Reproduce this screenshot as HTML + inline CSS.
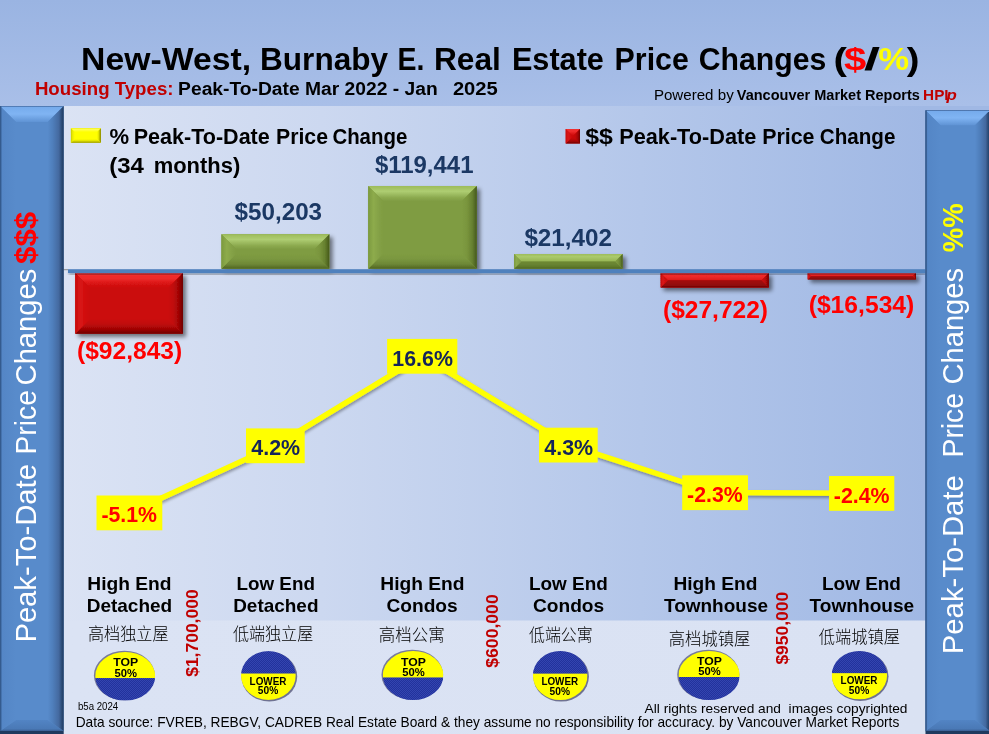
<!DOCTYPE html>
<html lang="en"><head><meta charset="utf-8"><title>New-West, Burnaby E. Real Estate Price Changes</title>
<style>html,body{margin:0;padding:0;background:#a3bae5;overflow:hidden;width:989px;height:734px}svg{display:block}text{white-space:pre}</style></head><body>
<svg width="989" height="734" viewBox="0 0 989 734">
<defs>
<linearGradient id="bgTop" gradientUnits="userSpaceOnUse" x1="0" y1="0" x2="0" y2="106"><stop offset="0" stop-color="#9ab4e2"/><stop offset="1" stop-color="#a9bfe8"/></linearGradient>
<linearGradient id="plot" gradientUnits="userSpaceOnUse" x1="63" y1="0" x2="925" y2="0"><stop offset="0" stop-color="#dbe3f4"/><stop offset="0.3" stop-color="#ccd8f0"/><stop offset="0.67" stop-color="#b4c7ea"/><stop offset="1" stop-color="#a0b8e4"/></linearGradient>
<linearGradient id="band" gradientUnits="userSpaceOnUse" x1="63" y1="0" x2="925" y2="0"><stop offset="0" stop-color="#dbe3f4"/><stop offset="1" stop-color="#dae2f3"/></linearGradient>
<linearGradient id="gT" x1="0" y1="0" x2="0" y2="1"><stop offset="0" stop-color="#9dbc5a"/><stop offset="0.35" stop-color="#aecd72"/><stop offset="0.75" stop-color="#8dab50"/><stop offset="1" stop-color="#7f9c42"/></linearGradient>
<linearGradient id="gB" x1="0" y1="1" x2="0" y2="0"><stop offset="0" stop-color="#4f6420"/><stop offset="0.3" stop-color="#6d8736"/><stop offset="0.65" stop-color="#7a973f"/><stop offset="1" stop-color="#7f9c42"/></linearGradient>
<linearGradient id="gL" x1="0" y1="0" x2="1" y2="0"><stop offset="0" stop-color="#7c9a3e"/><stop offset="0.35" stop-color="#8dab4c"/><stop offset="0.75" stop-color="#83a045"/><stop offset="1" stop-color="#7f9c42"/></linearGradient>
<linearGradient id="gR" x1="1" y1="0" x2="0" y2="0"><stop offset="0" stop-color="#44581a"/><stop offset="0.3" stop-color="#66802f"/><stop offset="0.65" stop-color="#79953d"/><stop offset="1" stop-color="#7f9c42"/></linearGradient>
<linearGradient id="gsT" x1="0" y1="0" x2="0" y2="1"><stop offset="0" stop-color="#9dbc5a"/><stop offset="0.35" stop-color="#abca6c"/><stop offset="0.75" stop-color="#9ebd5c"/><stop offset="1" stop-color="#98b855"/></linearGradient>
<linearGradient id="gsB" x1="0" y1="1" x2="0" y2="0"><stop offset="0" stop-color="#4f6420"/><stop offset="0.3" stop-color="#5f7a2c"/><stop offset="0.65" stop-color="#6a8532"/><stop offset="1" stop-color="#6e8934"/></linearGradient>
<linearGradient id="gsL" x1="0" y1="0" x2="1" y2="0"><stop offset="0" stop-color="#7c9a3e"/><stop offset="0.35" stop-color="#8dab4c"/><stop offset="0.75" stop-color="#83a045"/><stop offset="1" stop-color="#7f9c42"/></linearGradient>
<linearGradient id="gsR" x1="1" y1="0" x2="0" y2="0"><stop offset="0" stop-color="#44581a"/><stop offset="0.3" stop-color="#66802f"/><stop offset="0.65" stop-color="#79953d"/><stop offset="1" stop-color="#7f9c42"/></linearGradient>
<linearGradient id="rsT" x1="0" y1="0" x2="0" y2="1"><stop offset="0" stop-color="#e82424"/><stop offset="0.35" stop-color="#f02c2c"/><stop offset="0.75" stop-color="#e52121"/><stop offset="1" stop-color="#e01c1c"/></linearGradient>
<linearGradient id="rsB" x1="0" y1="1" x2="0" y2="0"><stop offset="0" stop-color="#6e0000"/><stop offset="0.3" stop-color="#8e0808"/><stop offset="0.65" stop-color="#9c0808"/><stop offset="1" stop-color="#a00808"/></linearGradient>
<linearGradient id="rsL" x1="0" y1="0" x2="1" y2="0"><stop offset="0" stop-color="#c80c0c"/><stop offset="0.35" stop-color="#d81616"/><stop offset="0.75" stop-color="#cf0c0c"/><stop offset="1" stop-color="#cb0808"/></linearGradient>
<linearGradient id="rsR" x1="1" y1="0" x2="0" y2="0"><stop offset="0" stop-color="#6e0000"/><stop offset="0.3" stop-color="#a20606"/><stop offset="0.65" stop-color="#c10808"/><stop offset="1" stop-color="#cb0808"/></linearGradient>
<linearGradient id="rT" x1="0" y1="0" x2="0" y2="1"><stop offset="0" stop-color="#f03030"/><stop offset="0.35" stop-color="#ee2a2a"/><stop offset="0.75" stop-color="#d61212"/><stop offset="1" stop-color="#cb0808"/></linearGradient>
<linearGradient id="rB" x1="0" y1="1" x2="0" y2="0"><stop offset="0" stop-color="#6e0000"/><stop offset="0.3" stop-color="#a00606"/><stop offset="0.65" stop-color="#c00808"/><stop offset="1" stop-color="#cb0808"/></linearGradient>
<linearGradient id="rL" x1="0" y1="0" x2="1" y2="0"><stop offset="0" stop-color="#c80c0c"/><stop offset="0.35" stop-color="#d81616"/><stop offset="0.75" stop-color="#cf0c0c"/><stop offset="1" stop-color="#cb0808"/></linearGradient>
<linearGradient id="rR" x1="1" y1="0" x2="0" y2="0"><stop offset="0" stop-color="#6e0000"/><stop offset="0.3" stop-color="#a20606"/><stop offset="0.65" stop-color="#c10808"/><stop offset="1" stop-color="#cb0808"/></linearGradient>
<linearGradient id="pT" x1="0" y1="0" x2="0" y2="1"><stop offset="0" stop-color="#3a5f94"/><stop offset="0.08" stop-color="#76abec"/><stop offset="0.5" stop-color="#80b4f3"/><stop offset="1" stop-color="#5f93d4"/></linearGradient>
<linearGradient id="pB" x1="0" y1="1" x2="0" y2="0"><stop offset="0" stop-color="#3a5f94"/><stop offset="0.2" stop-color="#4a79b6"/><stop offset="1" stop-color="#5284c4"/></linearGradient>
<linearGradient id="pL" x1="0" y1="0" x2="1" y2="0"><stop offset="0" stop-color="#3f6ba8"/><stop offset="0.15" stop-color="#5486c6"/><stop offset="1" stop-color="#588bcb"/></linearGradient>
<linearGradient id="pR" x1="1" y1="0" x2="0" y2="0"><stop offset="0" stop-color="#1f3a5f"/><stop offset="0.13" stop-color="#2c4c78"/><stop offset="0.3" stop-color="#44699f"/><stop offset="0.7" stop-color="#4f7fbc"/><stop offset="1" stop-color="#588bcb"/></linearGradient>
<linearGradient id="yT" x1="0" y1="0" x2="0" y2="1"><stop offset="0" stop-color="#f0f020"/><stop offset="0.35" stop-color="#ffff50"/><stop offset="0.75" stop-color="#ffff18"/><stop offset="1" stop-color="#ffff00"/></linearGradient>
<linearGradient id="yB" x1="0" y1="1" x2="0" y2="0"><stop offset="0" stop-color="#8c8c00"/><stop offset="0.3" stop-color="#c4c400"/><stop offset="0.65" stop-color="#f0f000"/><stop offset="1" stop-color="#ffff00"/></linearGradient>
<linearGradient id="yL" x1="0" y1="0" x2="1" y2="0"><stop offset="0" stop-color="#c8c800"/><stop offset="0.35" stop-color="#e8e800"/><stop offset="0.75" stop-color="#f8f800"/><stop offset="1" stop-color="#ffff00"/></linearGradient>
<linearGradient id="yR" x1="1" y1="0" x2="0" y2="0"><stop offset="0" stop-color="#7c7c00"/><stop offset="0.3" stop-color="#b4b400"/><stop offset="0.65" stop-color="#ecec00"/><stop offset="1" stop-color="#ffff00"/></linearGradient>
<filter id="sh" x="-10%" y="-20%" width="125%" height="150%"><feGaussianBlur in="SourceAlpha" stdDeviation="2.2"/><feOffset dx="2.5" dy="2.5"/><feComponentTransfer><feFuncA type="linear" slope="0.5"/></feComponentTransfer><feMerge><feMergeNode/><feMergeNode in="SourceGraphic"/></feMerge></filter>
<filter id="shl" x="-5%" y="-20%" width="110%" height="150%"><feGaussianBlur in="SourceAlpha" stdDeviation="1.5"/><feOffset dx="1" dy="2"/><feComponentTransfer><feFuncA type="linear" slope="0.35"/></feComponentTransfer><feMerge><feMergeNode/><feMergeNode in="SourceGraphic"/></feMerge></filter>
<pattern id="hatch" width="2" height="2" patternUnits="userSpaceOnUse"><rect width="2" height="2" fill="#22329c"/><rect width="1" height="1" fill="#3445b0"/><rect x="1" y="1" width="1" height="1" fill="#3445b0"/></pattern>
</defs>
<rect x="0" y="0" width="989" height="734" fill="url(#bgTop)"/>
<rect x="0" y="106" width="989" height="628" fill="url(#plot)"/>
<rect x="0" y="620.5" width="989" height="113.5" fill="url(#band)"/>
<text y="70.4" font-family="Liberation Sans, sans-serif" font-size="31" fill="#000" font-weight="bold"><tspan x="81.1" textLength="170.1" lengthAdjust="spacingAndGlyphs" >New-West,</tspan><tspan x="260.1" textLength="127.9" lengthAdjust="spacingAndGlyphs" >Burnaby</tspan><tspan x="397.5" textLength="26.9" lengthAdjust="spacingAndGlyphs" >E.</tspan><tspan x="433.9" textLength="66.9" lengthAdjust="spacingAndGlyphs" >Real</tspan><tspan x="511.9" textLength="92.0" lengthAdjust="spacingAndGlyphs" >Estate</tspan><tspan x="614.6" textLength="74.2" lengthAdjust="spacingAndGlyphs" >Price</tspan><tspan x="698.8" textLength="127.5" lengthAdjust="spacingAndGlyphs" >Changes</tspan><tspan x="833.6" textLength="13.4" lengthAdjust="spacingAndGlyphs" >(</tspan><tspan x="843.9" textLength="22.3" lengthAdjust="spacingAndGlyphs" fill="#ff0000">$</tspan><tspan x="864.1" textLength="16.1" lengthAdjust="spacingAndGlyphs" >/</tspan><tspan x="878.3" textLength="30.9" lengthAdjust="spacingAndGlyphs" fill="#ffff00">%</tspan><tspan x="906.8" textLength="12.7" lengthAdjust="spacingAndGlyphs" >)</tspan></text>
<text y="95.4" font-family="Liberation Sans, sans-serif" font-size="18" fill="#c00000" font-weight="bold"><tspan x="34.9" textLength="138.6" lengthAdjust="spacingAndGlyphs" >Housing Types:</tspan></text>
<text y="95.4" font-family="Liberation Sans, sans-serif" font-size="18" fill="#000" font-weight="bold"><tspan x="178.1" textLength="259.6" lengthAdjust="spacingAndGlyphs" >Peak-To-Date Mar 2022 - Jan</tspan><tspan x="452.9" textLength="44.9" lengthAdjust="spacingAndGlyphs" >2025</tspan></text>
<text y="99.8" font-family="Liberation Sans, sans-serif" font-size="15.5" fill="#000"><tspan x="653.9" textLength="79.8" lengthAdjust="spacingAndGlyphs" >Powered by</tspan></text>
<text y="99.8" font-family="Liberation Sans, sans-serif" font-size="15.5" fill="#000" font-weight="bold"><tspan x="736.8" textLength="183.1" lengthAdjust="spacingAndGlyphs" >Vancouver Market Reports</tspan></text>
<text y="99.8" font-family="Liberation Sans, sans-serif" font-size="15.5" fill="#c00000" font-weight="bold"><tspan x="923.1" textLength="25.5" lengthAdjust="spacingAndGlyphs" >HPI</tspan><tspan x="946.6" textLength="10.3" lengthAdjust="spacingAndGlyphs" font-style="italic">p</tspan></text>
<rect x="70.9" y="128.2" width="30" height="14.6" fill="#ffff00"/>
<polygon points="70.9,128.2 100.9,128.2 96.9,132.2 74.9,132.2" fill="url(#yT)"/>
<polygon points="70.9,142.79999999999998 100.9,142.79999999999998 96.9,138.79999999999998 74.9,138.79999999999998" fill="url(#yB)"/>
<polygon points="70.9,128.2 74.9,132.2 74.9,138.79999999999998 70.9,142.79999999999998" fill="url(#yL)"/>
<polygon points="100.9,128.2 96.9,132.2 96.9,138.79999999999998 100.9,142.79999999999998" fill="url(#yR)"/>
<text y="143.5" font-family="Liberation Sans, sans-serif" font-size="22" fill="#000" font-weight="bold"><tspan x="109.4" textLength="19.6" lengthAdjust="spacingAndGlyphs" >%</tspan><tspan x="133.7" textLength="136.1" lengthAdjust="spacingAndGlyphs" >Peak-To-Date</tspan><tspan x="276.0" textLength="52.0" lengthAdjust="spacingAndGlyphs" >Price</tspan><tspan x="332.4" textLength="74.9" lengthAdjust="spacingAndGlyphs" >Change</tspan></text>
<text y="173.3" font-family="Liberation Sans, sans-serif" font-size="22" fill="#000" font-weight="bold"><tspan x="109.2" textLength="34.7" lengthAdjust="spacingAndGlyphs" >(34</tspan><tspan x="153.7" textLength="86.6" lengthAdjust="spacingAndGlyphs" >months)</tspan></text>
<rect x="565.7" y="129" width="14.3" height="14.5" fill="#cb0808"/>
<polygon points="565.7,129 580.0,129 573.0,136 572.7,136" fill="url(#rT)"/>
<polygon points="565.7,143.5 580.0,143.5 573.0,136.5 572.7,136.5" fill="url(#rB)"/>
<polygon points="565.7,129 572.7,136 572.7,136.5 565.7,143.5" fill="url(#rL)"/>
<polygon points="580.0,129 573.0,136 573.0,136.5 580.0,143.5" fill="url(#rR)"/>
<text y="143.5" font-family="Liberation Sans, sans-serif" font-size="22" fill="#000" font-weight="bold"><tspan x="585.2" textLength="27.7" lengthAdjust="spacingAndGlyphs" >$$</tspan><tspan x="619.2" textLength="137.1" lengthAdjust="spacingAndGlyphs" >Peak-To-Date</tspan><tspan x="762.2" textLength="52.3" lengthAdjust="spacingAndGlyphs" >Price</tspan><tspan x="819.8" textLength="75.6" lengthAdjust="spacingAndGlyphs" >Change</tspan></text>
<g filter="url(#sh)">
<rect x="75.2" y="273.1" width="107.8" height="60.6" fill="#cb0808"/>
<polygon points="75.2,273.1 183.0,273.1 168.0,288.1 90.2,288.1" fill="url(#rT)"/>
<polygon points="75.2,333.70000000000005 183.0,333.70000000000005 168.0,318.70000000000005 90.2,318.70000000000005" fill="url(#rB)"/>
<polygon points="75.2,273.1 90.2,288.1 90.2,318.70000000000005 75.2,333.70000000000005" fill="url(#rL)"/>
<polygon points="183.0,273.1 168.0,288.1 168.0,318.70000000000005 183.0,333.70000000000005" fill="url(#rR)"/>
<rect x="221.4" y="234.2" width="108" height="34.6" fill="#7f9c42"/>
<polygon points="221.4,234.2 329.4,234.2 314.4,249.2 236.4,249.2" fill="url(#gT)"/>
<polygon points="221.4,268.8 329.4,268.8 314.4,253.8 236.4,253.8" fill="url(#gB)"/>
<polygon points="221.4,234.2 236.4,249.2 236.4,253.8 221.4,268.8" fill="url(#gL)"/>
<polygon points="329.4,234.2 314.4,249.2 314.4,253.8 329.4,268.8" fill="url(#gR)"/>
<rect x="368.2" y="186.1" width="108.6" height="82.6" fill="#7f9c42"/>
<polygon points="368.2,186.1 476.79999999999995,186.1 461.79999999999995,201.1 383.2,201.1" fill="url(#gT)"/>
<polygon points="368.2,268.7 476.79999999999995,268.7 461.79999999999995,253.7 383.2,253.7" fill="url(#gB)"/>
<polygon points="368.2,186.1 383.2,201.1 383.2,253.7 368.2,268.7" fill="url(#gL)"/>
<polygon points="476.79999999999995,186.1 461.79999999999995,201.1 461.79999999999995,253.7 476.79999999999995,268.7" fill="url(#gR)"/>
<rect x="514" y="254" width="108.6" height="14.8" fill="#7f9c42"/>
<polygon points="514,254 622.6,254 615.2,261.4 521.4,261.4" fill="url(#gsT)"/>
<polygon points="514,268.8 622.6,268.8 615.2,261.40000000000003 521.4,261.40000000000003" fill="url(#gsB)"/>
<polygon points="514,254 521.4,261.4 521.4,261.40000000000003 514,268.8" fill="url(#gsL)"/>
<polygon points="622.6,254 615.2,261.4 615.2,261.40000000000003 622.6,268.8" fill="url(#gsR)"/>
<rect x="660.6" y="273.1" width="108.3" height="14.5" fill="#cb0808"/>
<polygon points="660.6,273.1 768.9,273.1 761.65,280.35 667.85,280.35" fill="url(#rsT)"/>
<polygon points="660.6,287.6 768.9,287.6 761.65,280.35 667.85,280.35" fill="url(#rsB)"/>
<polygon points="660.6,273.1 667.85,280.35 667.85,280.35 660.6,287.6" fill="url(#rsL)"/>
<polygon points="768.9,273.1 761.65,280.35 761.65,280.35 768.9,287.6" fill="url(#rsR)"/>
<rect x="807.7" y="273.1" width="108.3" height="6.3" fill="#cb0808"/>
<polygon points="807.7,273.1 916.0,273.1 912.85,276.25 810.85,276.25" fill="url(#rsT)"/>
<polygon points="807.7,279.40000000000003 916.0,279.40000000000003 912.85,276.25000000000006 810.85,276.25000000000006" fill="url(#rsB)"/>
<polygon points="807.7,273.1 810.85,276.25 810.85,276.25000000000006 807.7,279.40000000000003" fill="url(#rsL)"/>
<polygon points="916.0,273.1 912.85,276.25 912.85,276.25000000000006 916.0,279.40000000000003" fill="url(#rsR)"/>
</g>
<rect x="68" y="269.2" width="857.5" height="3.9" fill="#4f81bd" filter="url(#shl)"/>
<rect x="63" y="269.2" width="5" height="1" fill="#8a8a8a"/>
<text x="234.6" y="219.9" font-family="Liberation Sans, sans-serif" font-size="24" fill="#1b3864" font-weight="bold" textLength="87.5" lengthAdjust="spacingAndGlyphs">$50,203</text>
<text x="374.9" y="172.5" font-family="Liberation Sans, sans-serif" font-size="24" fill="#1b3864" font-weight="bold" textLength="98.6" lengthAdjust="spacingAndGlyphs">$119,441</text>
<text x="524.4" y="245.5" font-family="Liberation Sans, sans-serif" font-size="24" fill="#1b3864" font-weight="bold" textLength="87.6" lengthAdjust="spacingAndGlyphs">$21,402</text>
<text x="77" y="358.7" font-family="Liberation Sans, sans-serif" font-size="24.5" fill="#ff0000" font-weight="bold" textLength="105.2" lengthAdjust="spacingAndGlyphs">($92,843)</text>
<text x="663" y="318" font-family="Liberation Sans, sans-serif" font-size="24.5" fill="#ff0000" font-weight="bold" textLength="105" lengthAdjust="spacingAndGlyphs">($27,722)</text>
<text x="808.7" y="313" font-family="Liberation Sans, sans-serif" font-size="24.5" fill="#ff0000" font-weight="bold" textLength="105.6" lengthAdjust="spacingAndGlyphs">($16,534)</text>
<polyline points="129.4,512.7 275.4,445.6 422.2,356.1 568.4,444.9 715.1,492.5 861.6,493.2" fill="none" stroke="#ffff00" stroke-width="5.5" stroke-linejoin="round" stroke-linecap="round" filter="url(#shl)"/>
<rect x="96.5" y="495.5" width="65.8" height="34.8" fill="#ffff00"/>
<text x="101.4" y="522.4" font-family="Liberation Sans, sans-serif" font-size="22.6" fill="#ff0000" font-weight="bold" textLength="55.6" lengthAdjust="spacingAndGlyphs">-5.1%</text>
<rect x="246" y="428.4" width="58.7" height="34.8" fill="#ffff00"/>
<text x="251.3" y="455.3" font-family="Liberation Sans, sans-serif" font-size="22.6" fill="#14245a" font-weight="bold" textLength="48.9" lengthAdjust="spacingAndGlyphs">4.2%</text>
<rect x="387.1" y="338.9" width="70.2" height="34.8" fill="#ffff00"/>
<text x="392.3" y="365.8" font-family="Liberation Sans, sans-serif" font-size="22.6" fill="#14245a" font-weight="bold" textLength="60.6" lengthAdjust="spacingAndGlyphs">16.6%</text>
<rect x="539" y="427.7" width="58.7" height="34.8" fill="#ffff00"/>
<text x="544.3" y="454.6" font-family="Liberation Sans, sans-serif" font-size="22.6" fill="#14245a" font-weight="bold" textLength="48.9" lengthAdjust="spacingAndGlyphs">4.3%</text>
<rect x="682.2" y="475.3" width="65.8" height="34.8" fill="#ffff00"/>
<text x="687.1" y="502.2" font-family="Liberation Sans, sans-serif" font-size="22.6" fill="#ff0000" font-weight="bold" textLength="55.6" lengthAdjust="spacingAndGlyphs">-2.3%</text>
<rect x="829" y="476.0" width="65.3" height="34.8" fill="#ffff00"/>
<text x="833.8" y="502.9" font-family="Liberation Sans, sans-serif" font-size="22.6" fill="#ff0000" font-weight="bold" textLength="55.8" lengthAdjust="spacingAndGlyphs">-2.4%</text>
<text x="87.3" y="589.7" font-family="Liberation Sans, sans-serif" font-size="19" fill="#000" font-weight="bold" textLength="84.3" lengthAdjust="spacingAndGlyphs">High End</text>
<text x="86.7" y="611.6" font-family="Liberation Sans, sans-serif" font-size="19" fill="#000" font-weight="bold" textLength="85.5" lengthAdjust="spacingAndGlyphs">Detached</text>
<text x="236.5" y="589.7" font-family="Liberation Sans, sans-serif" font-size="19" fill="#000" font-weight="bold" textLength="78.4" lengthAdjust="spacingAndGlyphs">Low End</text>
<text x="233.2" y="611.6" font-family="Liberation Sans, sans-serif" font-size="19" fill="#000" font-weight="bold" textLength="85.3" lengthAdjust="spacingAndGlyphs">Detached</text>
<text x="380.3" y="589.7" font-family="Liberation Sans, sans-serif" font-size="19" fill="#000" font-weight="bold" textLength="84.3" lengthAdjust="spacingAndGlyphs">High End</text>
<text x="386.4" y="611.6" font-family="Liberation Sans, sans-serif" font-size="19" fill="#000" font-weight="bold" textLength="71.3" lengthAdjust="spacingAndGlyphs">Condos</text>
<text x="529" y="589.7" font-family="Liberation Sans, sans-serif" font-size="19" fill="#000" font-weight="bold" textLength="78.8" lengthAdjust="spacingAndGlyphs">Low End</text>
<text x="532.9" y="611.6" font-family="Liberation Sans, sans-serif" font-size="19" fill="#000" font-weight="bold" textLength="71.3" lengthAdjust="spacingAndGlyphs">Condos</text>
<text x="673.4" y="589.7" font-family="Liberation Sans, sans-serif" font-size="19" fill="#000" font-weight="bold" textLength="84.0" lengthAdjust="spacingAndGlyphs">High End</text>
<text x="664" y="611.6" font-family="Liberation Sans, sans-serif" font-size="19" fill="#000" font-weight="bold" textLength="104" lengthAdjust="spacingAndGlyphs">Townhouse</text>
<text x="822" y="589.7" font-family="Liberation Sans, sans-serif" font-size="19" fill="#000" font-weight="bold" textLength="78.9" lengthAdjust="spacingAndGlyphs">Low End</text>
<text x="809.6" y="611.6" font-family="Liberation Sans, sans-serif" font-size="19" fill="#000" font-weight="bold" textLength="104.6" lengthAdjust="spacingAndGlyphs">Townhouse</text>
<text x="88" y="639.8" font-family="Liberation Sans, Noto Sans CJK SC, sans-serif" font-size="16.8" fill="#000" textLength="80.6" lengthAdjust="spacingAndGlyphs" font-weight="300">高档独立屋</text>
<text x="232.9" y="639.8" font-family="Liberation Sans, Noto Sans CJK SC, sans-serif" font-size="16.8" fill="#000" textLength="80.4" lengthAdjust="spacingAndGlyphs" font-weight="300">低端独立屋</text>
<text x="378.8" y="641.3" font-family="Liberation Sans, Noto Sans CJK SC, sans-serif" font-size="16.8" fill="#000" textLength="65.8" lengthAdjust="spacingAndGlyphs" font-weight="300">高档公寓</text>
<text x="529" y="641.3" font-family="Liberation Sans, Noto Sans CJK SC, sans-serif" font-size="16.8" fill="#000" textLength="63.6" lengthAdjust="spacingAndGlyphs" font-weight="300">低端公寓</text>
<text x="668.8" y="645.3" font-family="Liberation Sans, Noto Sans CJK SC, sans-serif" font-size="16.8" fill="#000" textLength="81.6" lengthAdjust="spacingAndGlyphs" font-weight="300">高档城镇屋</text>
<text x="818.7" y="643.3" font-family="Liberation Sans, Noto Sans CJK SC, sans-serif" font-size="16.8" fill="#000" textLength="81.3" lengthAdjust="spacingAndGlyphs" font-weight="300">低端城镇屋</text>
<clipPath id="c1"><ellipse cx="125.2" cy="676.3" rx="30" ry="24.3"/></clipPath>
<ellipse cx="124.4" cy="675.5" rx="30.5" ry="24.8" fill="#66688c" opacity="0.85"/>
<g clip-path="url(#c1)">
<rect x="95.2" y="652.0" width="60" height="26.1" fill="#ffff00"/>
<rect x="95.2" y="678.1" width="60" height="22.5" fill="url(#hatch)"/>
</g>
<text x="113.2" y="666.2" font-family="Liberation Sans, sans-serif" font-size="11" fill="#000" font-weight="bold" textLength="24.9" lengthAdjust="spacingAndGlyphs">TOP</text>
<text x="114.4" y="676.5" font-family="Liberation Sans, sans-serif" font-size="10" fill="#000" font-weight="bold" textLength="22.5" lengthAdjust="spacingAndGlyphs">50%</text>
<clipPath id="c2"><ellipse cx="268.4" cy="675.5" rx="27.4" ry="24.4"/></clipPath>
<ellipse cx="269.29999999999995" cy="676.6" rx="27.9" ry="24.9" fill="#5c5e80" opacity="0.85"/>
<g clip-path="url(#c2)">
<rect x="240.99999999999997" y="651.1" width="54.8" height="22.5" fill="url(#hatch)"/>
<rect x="240.99999999999997" y="673.6" width="54.8" height="26.3" fill="#ffff00"/>
</g>
<text x="249.59999999999997" y="684.6" font-family="Liberation Sans, sans-serif" font-size="11.2" fill="#000" font-weight="bold" textLength="36.8" lengthAdjust="spacingAndGlyphs">LOWER</text>
<text x="257.79999999999995" y="694.4" font-family="Liberation Sans, sans-serif" font-size="10" fill="#000" font-weight="bold" textLength="20.4" lengthAdjust="spacingAndGlyphs">50%</text>
<clipPath id="c3"><ellipse cx="413.1" cy="675.5" rx="30.3" ry="24.5"/></clipPath>
<ellipse cx="412.3" cy="674.7" rx="30.8" ry="25.0" fill="#66688c" opacity="0.85"/>
<g clip-path="url(#c3)">
<rect x="382.8" y="651.0" width="60.6" height="26.6" fill="#ffff00"/>
<rect x="382.8" y="677.6" width="60.6" height="22.4" fill="url(#hatch)"/>
</g>
<text x="401.1" y="665.7" font-family="Liberation Sans, sans-serif" font-size="11" fill="#000" font-weight="bold" textLength="24.9" lengthAdjust="spacingAndGlyphs">TOP</text>
<text x="402.3" y="676.0" font-family="Liberation Sans, sans-serif" font-size="10" fill="#000" font-weight="bold" textLength="22.5" lengthAdjust="spacingAndGlyphs">50%</text>
<clipPath id="c4"><ellipse cx="560.2" cy="675.5" rx="27.3" ry="24.5"/></clipPath>
<ellipse cx="561.1" cy="676.6" rx="27.8" ry="25.0" fill="#5c5e80" opacity="0.85"/>
<g clip-path="url(#c4)">
<rect x="532.9000000000001" y="651.0" width="54.6" height="22.7" fill="url(#hatch)"/>
<rect x="532.9000000000001" y="673.7" width="54.6" height="26.3" fill="#ffff00"/>
</g>
<text x="541.4000000000001" y="684.7" font-family="Liberation Sans, sans-serif" font-size="11.2" fill="#000" font-weight="bold" textLength="36.8" lengthAdjust="spacingAndGlyphs">LOWER</text>
<text x="549.6" y="694.5" font-family="Liberation Sans, sans-serif" font-size="10" fill="#000" font-weight="bold" textLength="20.4" lengthAdjust="spacingAndGlyphs">50%</text>
<clipPath id="c5"><ellipse cx="709.1" cy="675.5" rx="30.6" ry="24.5"/></clipPath>
<ellipse cx="708.3000000000001" cy="674.7" rx="31.1" ry="25.0" fill="#66688c" opacity="0.85"/>
<g clip-path="url(#c5)">
<rect x="678.5" y="651.0" width="61.2" height="26.0" fill="#ffff00"/>
<rect x="678.5" y="677.0" width="61.2" height="23.0" fill="url(#hatch)"/>
</g>
<text x="697.1" y="665.1" font-family="Liberation Sans, sans-serif" font-size="11" fill="#000" font-weight="bold" textLength="24.9" lengthAdjust="spacingAndGlyphs">TOP</text>
<text x="698.3000000000001" y="675.4" font-family="Liberation Sans, sans-serif" font-size="10" fill="#000" font-weight="bold" textLength="22.5" lengthAdjust="spacingAndGlyphs">50%</text>
<clipPath id="c6"><ellipse cx="859.4" cy="675.2" rx="27.7" ry="24.2"/></clipPath>
<ellipse cx="860.3" cy="676.3000000000001" rx="28.2" ry="24.7" fill="#5c5e80" opacity="0.85"/>
<g clip-path="url(#c6)">
<rect x="831.6999999999999" y="651.0" width="55.4" height="22.2" fill="url(#hatch)"/>
<rect x="831.6999999999999" y="673.2" width="55.4" height="26.2" fill="#ffff00"/>
</g>
<text x="840.6" y="684.2" font-family="Liberation Sans, sans-serif" font-size="11.2" fill="#000" font-weight="bold" textLength="36.8" lengthAdjust="spacingAndGlyphs">LOWER</text>
<text x="848.8" y="694.0" font-family="Liberation Sans, sans-serif" font-size="10" fill="#000" font-weight="bold" textLength="20.4" lengthAdjust="spacingAndGlyphs">50%</text>
<text transform="translate(198.2,676.8) rotate(-90)" font-family="Liberation Sans, sans-serif" font-weight="bold" font-size="16.6" fill="#c00000" textLength="87.4" lengthAdjust="spacingAndGlyphs">$1,700,000</text>
<text transform="translate(497.7,667.7) rotate(-90)" font-family="Liberation Sans, sans-serif" font-weight="bold" font-size="16.6" fill="#c00000" textLength="73.4" lengthAdjust="spacingAndGlyphs">$600,000</text>
<text transform="translate(787.7,664.6) rotate(-90)" font-family="Liberation Sans, sans-serif" font-weight="bold" font-size="16.6" fill="#c00000" textLength="72.8" lengthAdjust="spacingAndGlyphs">$950,000</text>
<text x="77.9" y="709.6" font-family="Liberation Sans, sans-serif" font-size="10" fill="#000" textLength="40.3" lengthAdjust="spacingAndGlyphs">b5a 2024</text>
<text x="644.6" y="712.6" font-family="Liberation Sans, sans-serif" font-size="13.2" fill="#000" textLength="262.9" lengthAdjust="spacingAndGlyphs">All rights reserved and  images copyrighted</text>
<text x="75.7" y="726.8" font-family="Liberation Sans, sans-serif" font-size="14.4" fill="#000" textLength="823.6" lengthAdjust="spacingAndGlyphs">Data source: FVREB, REBGV, CADREB Real Estate Board &amp; they assume no responsibility for accuracy. by Vancouver Market Reports</text>
<g>
<rect x="0" y="106" width="63.7" height="625" fill="#588bcb"/>
<polygon points="0,106 63.7,106 47.7,122 16,122" fill="url(#pT)"/>
<polygon points="0,731 63.7,731 47.7,720 16,720" fill="url(#pB)"/>
<polygon points="0,106 16,122 16,720 0,731" fill="url(#pL)"/>
<polygon points="63.7,106 47.7,122 47.7,720 63.7,731" fill="url(#pR)"/>
<rect x="0" y="731" width="63.7" height="3" fill="#1f3a5f"/>
<rect x="925.5" y="110.3" width="64.5" height="620.7" fill="#588bcb"/>
<polygon points="925.5,110.3 990.0,110.3 975.0,125.3 940.5,125.3" fill="url(#pT)"/>
<polygon points="925.5,731.0 990.0,731.0 975.0,720.0 940.5,720.0" fill="url(#pB)"/>
<polygon points="925.5,110.3 940.5,125.3 940.5,720.0 925.5,731.0" fill="url(#pL)"/>
<polygon points="990.0,110.3 975.0,125.3 975.0,720.0 990.0,731.0" fill="url(#pR)"/>
<rect x="925.5" y="731" width="63.5" height="3" fill="#1f3a5f"/>
<rect x="925.3" y="110.3" width="1.4" height="621" fill="#2c4c78" opacity="0.75"/>
<rect x="0" y="106" width="1.3" height="625" fill="#2c4c78" opacity="0.6"/>
</g>
<text transform="translate(35.6,0) rotate(-90)" y="0" font-family="Liberation Sans, sans-serif" font-size="30" fill="#fff"><tspan x="-642.6" textLength="178.5" lengthAdjust="spacingAndGlyphs" >Peak-To-Date</tspan><tspan x="-454.5" textLength="64.4" lengthAdjust="spacingAndGlyphs" >Price</tspan><tspan x="-385.4" textLength="116.7" lengthAdjust="spacingAndGlyphs" >Changes</tspan><tspan x="-264.0" textLength="52.3" lengthAdjust="spacingAndGlyphs" fill="#ff0000" font-weight="bold">$$$</tspan></text>
<text transform="translate(963.1,0) rotate(-90)" y="0" font-family="Liberation Sans, sans-serif" font-size="30" fill="#fff"><tspan x="-654.2" textLength="178.9" lengthAdjust="spacingAndGlyphs" >Peak-To-Date</tspan><tspan x="-457.5" textLength="64.5" lengthAdjust="spacingAndGlyphs" >Price</tspan><tspan x="-384.6" textLength="116.7" lengthAdjust="spacingAndGlyphs" >Changes</tspan><tspan x="-252.2" textLength="48.7" lengthAdjust="spacingAndGlyphs" fill="#ffff00" font-weight="bold">%%</tspan></text>
</svg></body></html>
